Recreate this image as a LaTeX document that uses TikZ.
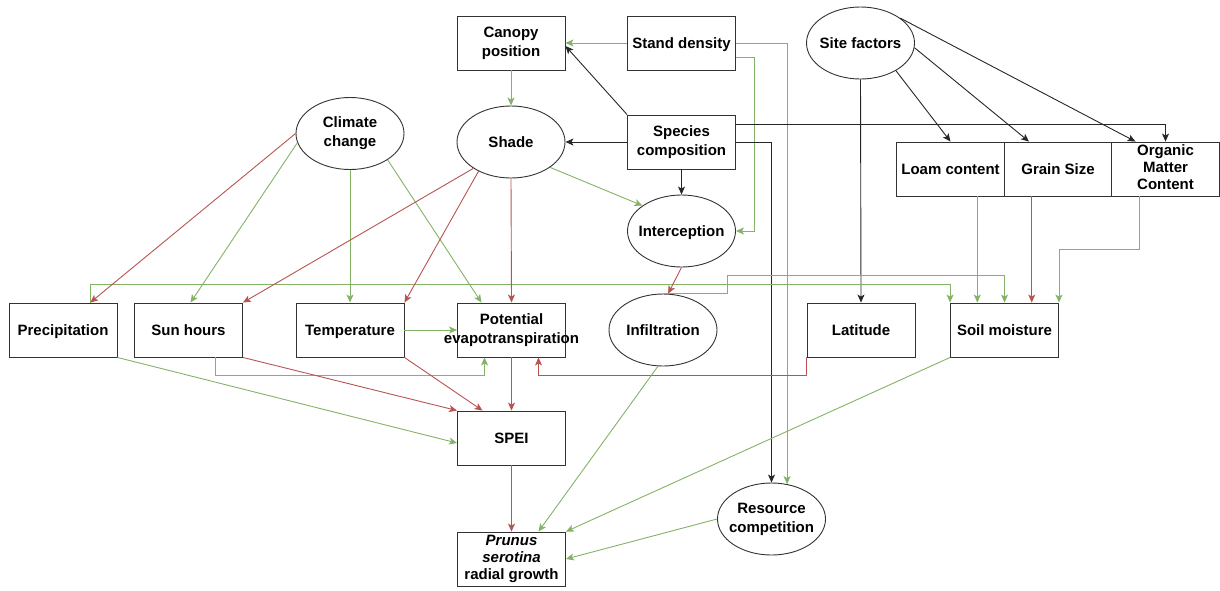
\documentclass[tikz,border=0pt]{standalone}
\usepackage{fontspec}
\setmainfont{Liberation Sans}
\usetikzlibrary{shapes.geometric,arrows.meta,calc}
\definecolor{posgreen}{HTML}{82B366}
\definecolor{negred}{HTML}{B85450}
\newcommand\ctext[1]{\makebox[0pt]{#1}}
\newcommand\linestrut{\rule[-3pt]{0pt}{17pt}}
\begin{document}
\begin{tikzpicture}[x=1pt, y=-1pt,
  every node/.style = {draw=black!80, line width=0.9pt, align=center, fill=white,
    font=\fontsize{15}{19}\selectfont\bfseries, inner xsep=2pt, inner ysep=0pt,
    execute at begin node=\linestrut, execute at end node=\linestrut},
  factor/.style = {rectangle, minimum width=108pt, minimum height=54pt},
  latent/.style = {ellipse, minimum width=108pt, minimum height=72pt, inner sep=0pt},
  link/.style = {line width=0.9pt, -{Stealth[length=8pt,width=7pt,inset=2pt]}},
  gainlink/.style = {link, draw=posgreen},
  losslink/.style = {link, draw=negred},
  plainlink/.style = {link, draw=black!85}]
  \useasboundingbox (0,0) rectangle (1220,590);
  \node[factor] (canopy) at (511,43) {Canopy\\position};
  \node[factor] (stand) at (681.5,43) {Stand density};
  \node[latent] (site) at (860.5,43) {\ctext{Site factors}};
  \node[latent] (climate) at (350,133.5) {\ctext{Climate}\\\ctext{change}};
  \node[latent] (shade) at (511,142) {\ctext{Shade}};
  \node[factor] (species) at (681.5,142) {Species\\composition};
  \node[latent] (interception) at (681.5,231) {\ctext{Interception}};
  \node[factor] (loam) at (950.5,169) {Loam content};
  \node[factor] (grain) at (1058,169) {Grain Size};
  \node[factor, font=\fontsize{15}{17}\selectfont\bfseries] (omc) at (1165.5,169) {Organic\\Matter\\Content};
  \node[factor] (precip) at (63,330) {Precipitation};
  \node[factor] (sun) at (188.5,330) {Sun hours};
  \node[factor] (temp) at (350,330) {Temperature};
  \node[factor] (pet) at (511.5,330) {Potential\\\ctext{evapotranspiration}};
  \node[latent] (infil) at (663,330) {\ctext{Infiltration}};
  \node[factor] (lat) at (861,330) {Latitude};
  \node[factor] (soil) at (1004.5,330) {Soil moisture};
  \node[factor] (spei) at (511.5,438) {SPEI};
  \node[factor, font=\fontsize{15}{17}\selectfont\bfseries] (prunus) at (511.5,559) {\textit{Prunus}\\\textit{serotina}\\radial growth};
  \node[latent] (resource) at (771.5,519) {\ctext{Resource}\\\ctext{competition}};
  \coordinate (sm1) at ($(soil.north west)!.25!(soil.north east)$);
  \coordinate (sm3) at ($(soil.north west)!.75!(soil.north east)$);
  \coordinate (pr3) at ($(precip.north west)!.75!(precip.north east)$);
  \draw[gainlink] (stand.west) -- (canopy.east);
  \draw[gainlink] (canopy.south) -- (shade.north);
  \draw[gainlink] ([yshift=-14pt]stand.east) -- ++(18,0) |- (interception.east);
  \draw[gainlink] (stand.east) -| (resource.66);
  \draw[plainlink] (species.north west) -- ([yshift=-3pt]canopy.east);
  \draw[plainlink] (species.west) -- (shade.east);
  \draw[plainlink] (species.south) -- (interception.north);
  \draw[plainlink] ([yshift=18pt]species.east) -| (omc.north);
  \draw[plainlink] (species.east) -| (resource.north);
  \draw[plainlink] (site.-38) -- (loam.north);
  \draw[plainlink] (site.-5) -- ([xshift=-29pt]grain.north);
  \draw[plainlink] (site.32) -- ([xshift=-30pt]omc.north);
  \draw[plainlink] (site.south) -- (lat.north);
  \draw[gainlink] (loam.south -| sm1) -- (sm1);
  \draw[losslink] (grain.south -| sm3) -- (sm3);
  \draw[gainlink] ([xshift=-26.5pt]omc.south) -- ++(0,53) -| (soil.north east);
  \draw[gainlink] (pr3) -- ++(0,-18) -| (soil.north west);
  \draw[gainlink] (infil.north) -- ++(64,0) -- ++(0,-18) -| (soil.north);
  \draw[losslink] (climate.west) -- (pr3);
  \draw[gainlink] (climate.190) -- ([xshift=2pt]sun.north);
  \draw[gainlink] (climate.south) -- (temp.north);
  \draw[gainlink] (climate.-35) -- ([xshift=-30pt]pet.north);
  \draw[losslink] (shade.215) -- (sun.north east);
  \draw[losslink] (shade.222) -- (temp.north east);
  \draw[losslink] (shade.south) -- (pet.north);
  \draw[gainlink] (shade.-33) -- (interception.147);
  \draw[losslink] (interception.south) -- (infil.82);
  \draw[gainlink] (temp.east) -- (pet.west);
  \draw[gainlink] ([xshift=26.5pt]sun.south) -- ++(0,18) -| ([xshift=-27pt]pet.south);
  \draw[losslink] (lat.south west) -- ++(0,18) -| ([xshift=27pt]pet.south);
  \draw[losslink] (sun.south east) -- (spei.north west);
  \draw[losslink] (temp.south east) -- ([xshift=-29pt]spei.north);
  \draw[gainlink] (precip.south east) -- ([yshift=-5pt]spei.west);
  \draw[losslink] (pet.south) -- (spei.north);
  \draw[losslink] (spei.south) -- (prunus.north);
  \draw[gainlink] (infil.-98) -- ([xshift=27pt]prunus.north);
  \draw[gainlink] (soil.south west) -- (prunus.north east);
  \draw[gainlink] (resource.west) -- (prunus.east);
\end{tikzpicture}
\end{document}
